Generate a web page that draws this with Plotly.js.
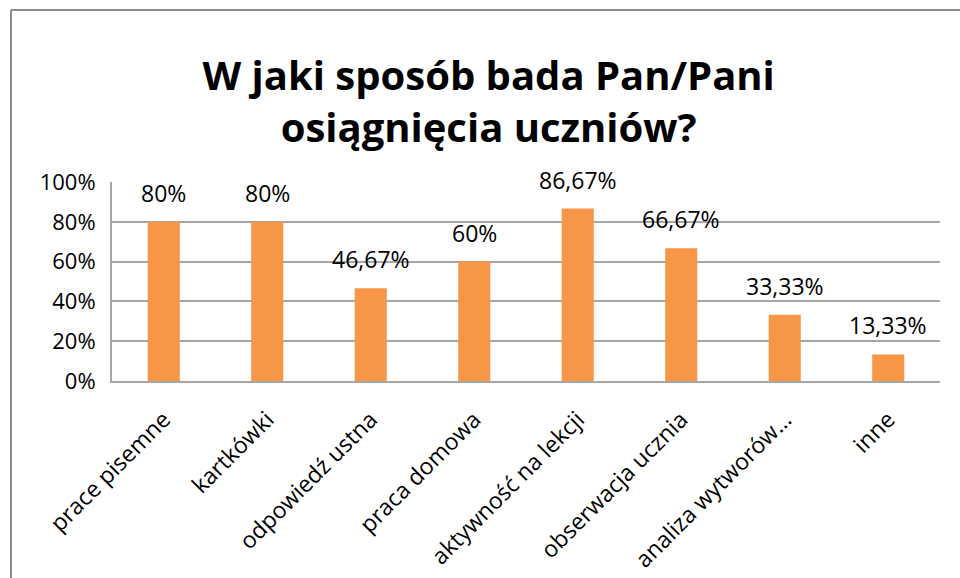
<!DOCTYPE html>
<html>
<head>
<meta charset="utf-8">
<script src="https://cdn.plot.ly/plotly-3.0.1.min.js"></script>
<style>html,body{margin:0;padding:0;background:#fff;}#chart{width:960px;height:578px;}</style>
</head>
<body>
<div id="chart"></div>
<script>
const categories = ["prace pisemne", "kartkówki", "odpowiedź ustna", "praca domowa", "aktywność na lekcji", "obserwacja ucznia", "analiza wytworów…", "inne"];
const values = [0.80, 0.80, 0.4667, 0.60, 0.8667, 0.6667, 0.3333, 0.1333];
const yTicks = [0, 0.2, 0.4, 0.6, 0.8, 1.0];
const yTickLabels = ["0%", "20%", "40%", "60%", "80%", "100%"];

function fmt(v) {
  const p = Math.round(v * 10000) / 100;
  return (Number.isInteger(p) ? String(p) : p.toFixed(2)).replace('.', ',') + '%';
}
const labels = values.map(fmt);

const FONT = "Open Sans, Noto Sans, sans-serif";

const trace = {
  type: 'bar',
  x: categories,
  y: values,
  marker: {color: '#F79646'},
  hoverinfo: 'none',
  cliponaxis: false
};

const annotations = categories.map((c, i) => ({
  x: c, y: values[i], xref: 'x', yref: 'y',
  text: labels[i], showarrow: false,
  yanchor: 'bottom', yshift: 11,
  font: {family: FONT, size: 23, color: '#000'}
}));

const L = 112, R = 940, T = 182, B = 381, W = 960, H = 578;
const px = x => (x - L) / (R - L);
const py = y => (B - y) / (B - T);

const layout = {
  width: W, height: H,
  margin: {l: L, r: W - R, t: T, b: H - B},
  paper_bgcolor: '#fff', plot_bgcolor: '#fff',
  showlegend: false,
  bargap: 0.69,
  title: {
    text: '<b>W jaki sposób bada Pan/Pani<br>osiągnięcia uczniów?</b>',
    font: {family: FONT, size: 40, color: '#000'},
    x: 0.509, xanchor: 'center', xref: 'container',
    y: 0.844, yanchor: 'middle', yref: 'container'
  },
  xaxis: {
    type: 'category',
    tickangle: -45,
    tickfont: {family: FONT, size: 23, color: '#000'},
    showline: true, linecolor: '#A6A6A6', linewidth: 2,
    ticks: '', showgrid: false,
    ticklabelstandoff: 14
  },
  yaxis: {
    range: [0, 1],
    tickvals: yTicks, ticktext: yTickLabels,
    tickfont: {family: FONT, size: 22, color: '#000'},
    showgrid: true, gridcolor: '#A6A6A6', gridwidth: 2,
    showline: true, linecolor: '#A6A6A6', linewidth: 2,
    zeroline: false, ticks: '', ticklabelstandoff: 10
  },
  annotations: annotations,
  shapes: [
    {type: 'line', xref: 'paper', yref: 'paper', x0: px(11), x1: px(11), y0: py(10), y1: py(590), line: {color: '#8C8C8C', width: 2}},
    {type: 'line', xref: 'paper', yref: 'paper', x0: px(11), x1: px(970), y0: py(10), y1: py(10), line: {color: '#8C8C8C', width: 2}}
  ]
};

Plotly.newPlot('chart', [trace], layout, {displayModeBar: false, staticPlot: true});
</script>
</body>
</html>
